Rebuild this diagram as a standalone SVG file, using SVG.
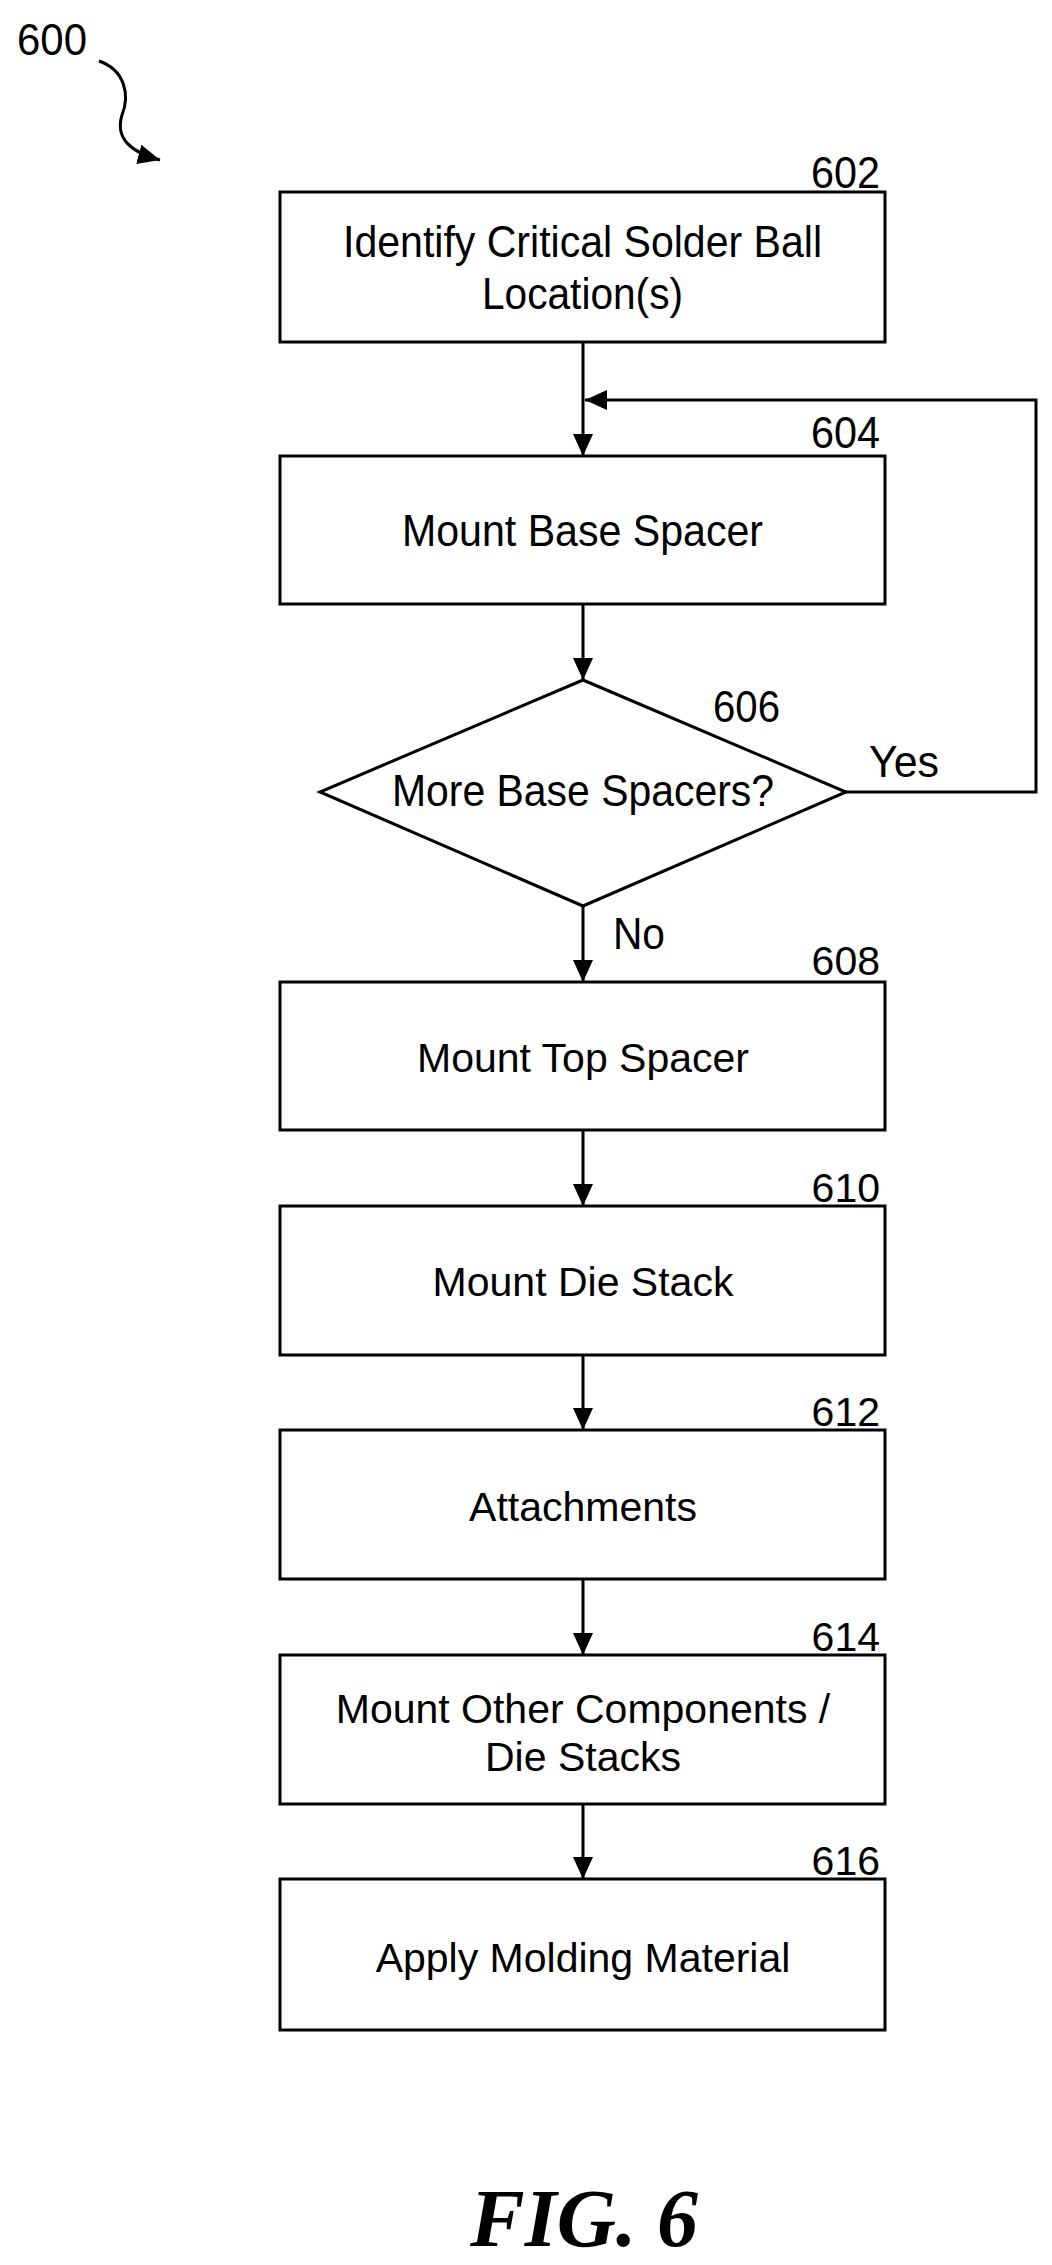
<svg xmlns="http://www.w3.org/2000/svg" width="1052" height="2265" viewBox="0 0 1052 2265">
<style>
.box{fill:#fff;stroke:#000;stroke-width:3}
.ln{fill:none;stroke:#000;stroke-width:3}
.n{font-family:"Liberation Sans",Arial,sans-serif;font-size:44px;fill:#000}
.r{font-family:"Liberation Sans",Arial,sans-serif;font-size:41px;fill:#000}
.c{text-anchor:middle}
</style>
<defs>
<marker id="ah" viewBox="0 0 10 10" refX="10" refY="5" markerWidth="9" markerHeight="9" markerUnits="userSpaceOnUse" orient="auto" style="overflow:visible">
<path d="M0,0 L10,5 L0,10 z" fill="#000" transform="scale(2.2) translate(-5.5,-2.7)"/>
</marker>
<marker id="a" viewBox="0 0 22 20" refX="22" refY="10" markerWidth="22" markerHeight="20" markerUnits="userSpaceOnUse" orient="auto">
<path d="M0,0 L22,10 L0,20 z" fill="#000"/>
</marker>
</defs>
<text class="n" x="17" y="55" textLength="70" lengthAdjust="spacingAndGlyphs">600</text>
<path class="ln" d="M99,61 C125,70 130,95 122,115 C115,138 130,152 160,160" marker-end="url(#a)"/>
<g id="connectors">
<line class="ln" x1="583" y1="342" x2="583" y2="456" marker-end="url(#a)"/>
<polyline class="ln" points="846,792 1036,792 1036,400 585,400" marker-end="url(#a)"/>
<line class="ln" x1="583" y1="604" x2="583" y2="680" marker-end="url(#a)"/>
<line class="ln" x1="583" y1="906" x2="583" y2="982" marker-end="url(#a)"/>
<line class="ln" x1="583" y1="1130" x2="583" y2="1206" marker-end="url(#a)"/>
<line class="ln" x1="583" y1="1355" x2="583" y2="1430" marker-end="url(#a)"/>
<line class="ln" x1="583" y1="1579" x2="583" y2="1655" marker-end="url(#a)"/>
<line class="ln" x1="583" y1="1804" x2="583" y2="1879" marker-end="url(#a)"/>
<text class="n" x="869" y="777" textLength="70" lengthAdjust="spacingAndGlyphs">Yes</text>
<text class="n" x="613" y="949" textLength="52" lengthAdjust="spacingAndGlyphs">No</text>
</g>
<g id="n602">
<rect class="box" x="280" y="192" width="605" height="150"/>
<text class="n" x="811" y="188" textLength="69" lengthAdjust="spacingAndGlyphs">602</text>
<text class="n" x="343" y="257" textLength="479" lengthAdjust="spacingAndGlyphs">Identify Critical Solder Ball</text>
<text class="n" x="482" y="309" textLength="201" lengthAdjust="spacingAndGlyphs">Location(s)</text>
</g>
<g id="n604">
<rect class="box" x="280" y="456" width="605" height="148"/>
<text class="n" x="811" y="448" textLength="69" lengthAdjust="spacingAndGlyphs">604</text>
<text class="n" x="402" y="546" textLength="361" lengthAdjust="spacingAndGlyphs">Mount Base Spacer</text>
</g>
<g id="n606">
<polygon class="box" points="583,680 846,792 583,906 320,792"/>
<text class="n" x="713" y="722" textLength="67" lengthAdjust="spacingAndGlyphs">606</text>
<text class="n" x="392" y="806" textLength="382" lengthAdjust="spacingAndGlyphs">More Base Spacers?</text>
</g>
<g id="n608">
<rect class="box" x="280" y="982" width="605" height="148"/>
<text class="r" x="880" y="975" text-anchor="end">608</text>
<text class="r c" x="583" y="1072">Mount Top Spacer</text>
</g>
<g id="n610">
<rect class="box" x="280" y="1206" width="605" height="149"/>
<text class="r" x="880" y="1202" text-anchor="end">610</text>
<text class="r c" x="583" y="1296">Mount Die Stack</text>
</g>
<g id="n612">
<rect class="box" x="280" y="1430" width="605" height="149"/>
<text class="r" x="880" y="1426" text-anchor="end">612</text>
<text class="r c" x="583" y="1521">Attachments</text>
</g>
<g id="n614">
<rect class="box" x="280" y="1655" width="605" height="149"/>
<text class="r" x="880" y="1651" text-anchor="end">614</text>
<text class="r c" x="583" y="1723">Mount Other Components /</text>
<text class="r c" x="583" y="1771">Die Stacks</text>
</g>
<g id="n616">
<rect class="box" x="280" y="1879" width="605" height="151"/>
<text class="r" x="880" y="1875" text-anchor="end">616</text>
<text class="r c" x="583" y="1972">Apply Molding Material</text>
</g>
<text x="584" y="2246" text-anchor="middle" style="font-family:'Liberation Serif','Times New Roman',serif;font-size:82px;font-weight:bold;font-style:italic">FIG. 6</text>
</svg>
